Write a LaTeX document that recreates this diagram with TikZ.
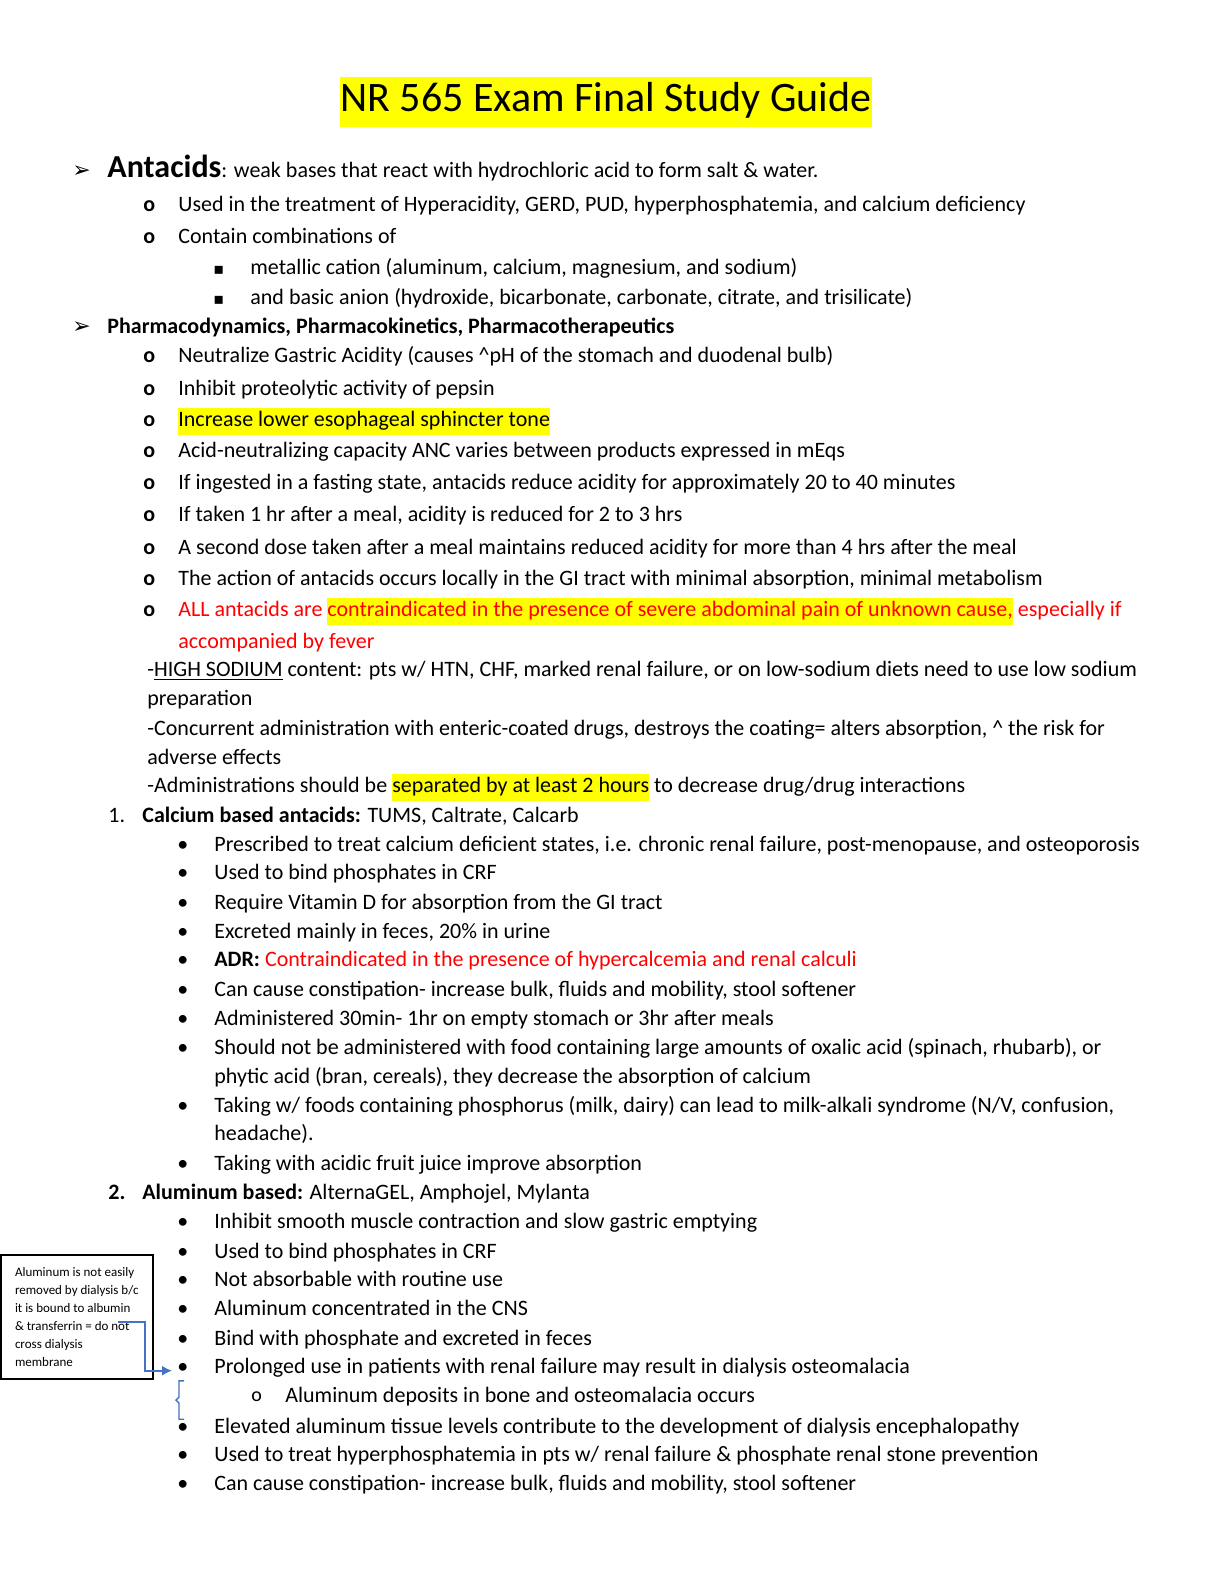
\documentclass[tikz,border=0pt]{standalone}
\usetikzlibrary{arrows.meta}
\usepackage{fontspec}
\setmainfont{Carlito}
\newfontfamily\dvs{DejaVu Sans}
\definecolor{hlyel}{RGB}{255,255,0}
\definecolor{myred}{RGB}{255,0,0}
\definecolor{arrblue}{RGB}{68,114,196}
\newcommand\hl[1]{{\setlength{\fboxsep}{0pt}\colorbox{hlyel}{\strut #1}}}
\begin{document}
\begin{tikzpicture}[x=0.5pt,y=-0.5pt,
  txt/.style={anchor=base west,inner sep=0pt,font=\fontsize{11}{13.5}\selectfont},
  mk/.style={anchor=base west,inner sep=0pt,font=\fontsize{11}{13.5}\selectfont}]
\useasboundingbox (0,0) rectangle (1224,1584);
\begin{scope}[yscale=1.0116,yshift=1.65pt]
% title
\node[anchor=base,inner sep=0pt,font=\fontsize{21}{25}\selectfont] (title) at (606,114) {\hl{NR 565 Exam Final Study Guide}};
% Antacids
\node[mk,font=\dvs\fontsize{11}{13}\selectfont] (a1) at (72,179) {➢};
\node[txt] (t1) at (107,179) {{\fontsize{16}{18}\selectfont\bfseries Antacids}: weak bases that react with hydrochloric acid to form salt \& water.};
\foreach \y/\t [count=\i] in {212/{Used in the treatment of Hyperacidity, GERD, PUD, hyperphosphatemia, and calcium deficiency},244/{Contain combinations of}}{
  \node[mk] (ob\i) at (143,\y) {\bfseries o};
  \node[txt] (ot\i) at (178,\y) {\t};}
\foreach \y/\t [count=\i] in {275/{metallic cation (aluminum, calcium, magnesium, and sodium)},304/{and basic anion (hydroxide, bicarbonate, carbonate, citrate, and trisilicate)}}{
  \node[mk,font=\dvs\fontsize{8}{10}\selectfont] (sq\i) at (213,\y) {▪};
  \node[txt] (st\i) at (250,\y) {\t};}
\node[mk,font=\dvs\fontsize{11}{13}\selectfont] (a2) at (72,333) {➢};
\node[txt] (t2) at (107,333) {\bfseries Pharmacodynamics, Pharmacokinetics, Pharmacotherapeutics};
\foreach \y/\t [count=\i] in {
 362/{Neutralize Gastric Acidity (causes \textasciicircum pH of the stomach and duodenal bulb)},
 394/{Inhibit proteolytic activity of pepsin},
 425/{\hl{Increase lower esophageal sphincter tone}},
 456/{Acid-neutralizing capacity ANC varies between products expressed in mEqs},
 487/{If ingested in a fasting state, antacids reduce acidity for approximately 20 to 40 minutes},
 519/{If taken 1 hr after a meal, acidity is reduced for 2 to 3 hrs},
 551/{A second dose taken after a meal maintains reduced acidity for more than 4 hrs after the meal},
 582/{The action of antacids occurs locally in the GI tract with minimal absorption, minimal metabolism},
 613/{\color{myred}ALL antacids are \hl{contraindicated in the presence of severe abdominal pain of unknown cause,} especially if}}{
  \node[mk] (pb\i) at (143,\y) {\bfseries o};
  \node[txt] (pt\i) at (178,\y) {\t};}
\node[txt,text=myred] (pt10) at (178,644) {accompanied by fever};
\node[txt] (d1) at (147,672) {-\underline{HIGH SODIUM} content: pts w/ HTN, CHF, marked renal failure, or on low-sodium diets need to use low sodium};
\node[txt] (d2) at (147,701) {preparation};
\node[txt] (d3) at (147,730) {-Concurrent administration with enteric-coated drugs, destroys the coating= alters absorption, \textasciicircum{} the risk for};
\node[txt] (d4) at (147,759) {adverse effects};
\node[txt] (d5) at (147,787) {-Administrations should be \hl{separated by at least 2 hours} to decrease drug/drug interactions};
\node[txt] (n1) at (108,816) {1.};
\node[txt] (n1t) at (142,816) {\bfseries Calcium based antacids: \mdseries TUMS, Caltrate, Calcarb};
\foreach \y/\t [count=\i] in {
 845/{Prescribed to treat calcium deficient states, i.e. chronic renal failure, post-menopause, and osteoporosis},
 873/{Used to bind phosphates in CRF},
 902/{Require Vitamin D for absorption from the GI tract},
 931/{Excreted mainly in feces, 20\% in urine},
 959/{\bfseries ADR: \mdseries\color{myred}Contraindicated in the presence of hypercalcemia and renal calculi},
 988/{Can cause constipation- increase bulk, fluids and mobility, stool softener},
 1017/{Administered 30min- 1hr on empty stomach or 3hr after meals},
 1046/{Should not be administered with food containing large amounts of oxalic acid (spinach, rhubarb), or},
 1103/{Taking w/ foods containing phosphorus (milk, dairy) can lead to milk-alkali syndrome (N/V, confusion,},
 1160/{Taking with acidic fruit juice improve absorption}}{
  \node[mk] (cb\i) at (177,\y) {•};
  \node[txt] (ct\i) at (214,\y) {\t};}
\node[txt] (ct11) at (214,1074) {phytic acid (bran, cereals), they decrease the absorption of calcium};
\node[txt] (ct12) at (214,1131) {headache).};
\node[txt] (n2) at (108,1189) {\bfseries 2.};
\node[txt] (n2t) at (142,1189) {\bfseries Aluminum based: \mdseries AlternaGEL, Amphojel, Mylanta};
\foreach \y/\t [count=\i] in {
 1218/{Inhibit smooth muscle contraction and slow gastric emptying},
 1247/{Used to bind phosphates in CRF},
 1275/{Not absorbable with routine use},
 1304/{Aluminum concentrated in the CNS},
 1333/{Bind with phosphate and excreted in feces},
 1361/{Prolonged use in patients with renal failure may result in dialysis osteomalacia},
 1420/{Elevated aluminum tissue levels contribute to the development of dialysis encephalopathy},
 1448/{Used to treat hyperphosphatemia in pts w/ renal failure \& phosphate renal stone prevention},
 1477/{Can cause constipation- increase bulk, fluids and mobility, stool softener}}{
  \node[mk] (ab\i) at (177,\y) {•};
  \node[txt] (at\i) at (214,\y) {\t};}
\node[txt,font=\fontsize{10}{12}\selectfont] (so) at (251,1389) {o};
\node[txt] (sot) at (285,1390) {Aluminum deposits in bone and osteomalacia occurs};
% side note box
\node[draw,line width=1pt,anchor=north west,inner xsep=7pt,inner ysep=4pt,minimum width=55pt,minimum height=62pt,align=left,
  font=\fontsize{6.5}{9}\selectfont] (box) at (0,1243) {Aluminum is not easily\\removed by dialysis b/c\\it is bound to albumin\\\& transferrin = do not\\cross dialysis\\membrane};
\coordinate (c0) at (118,1310);
\coordinate (c1) at (145,1310);
\coordinate (c2) at (145,1358);
\coordinate (c3) at (172,1358);
\draw[arrblue,line width=0.8pt,-{Latex[length=5pt,width=5pt]}] (c0) -- (c1) -- (c2) -- (c3);
\coordinate (b0) at (184,1368);
\coordinate (b1) at (184,1406);
\draw[arrblue,line width=0.7pt] (b0) -- ++(-5,0) -- ++(0,16) -- ++(-3,3) -- ++(3,3) -- ++(0,16) -- (b1);
\end{scope}
\end{tikzpicture}
\end{document}
